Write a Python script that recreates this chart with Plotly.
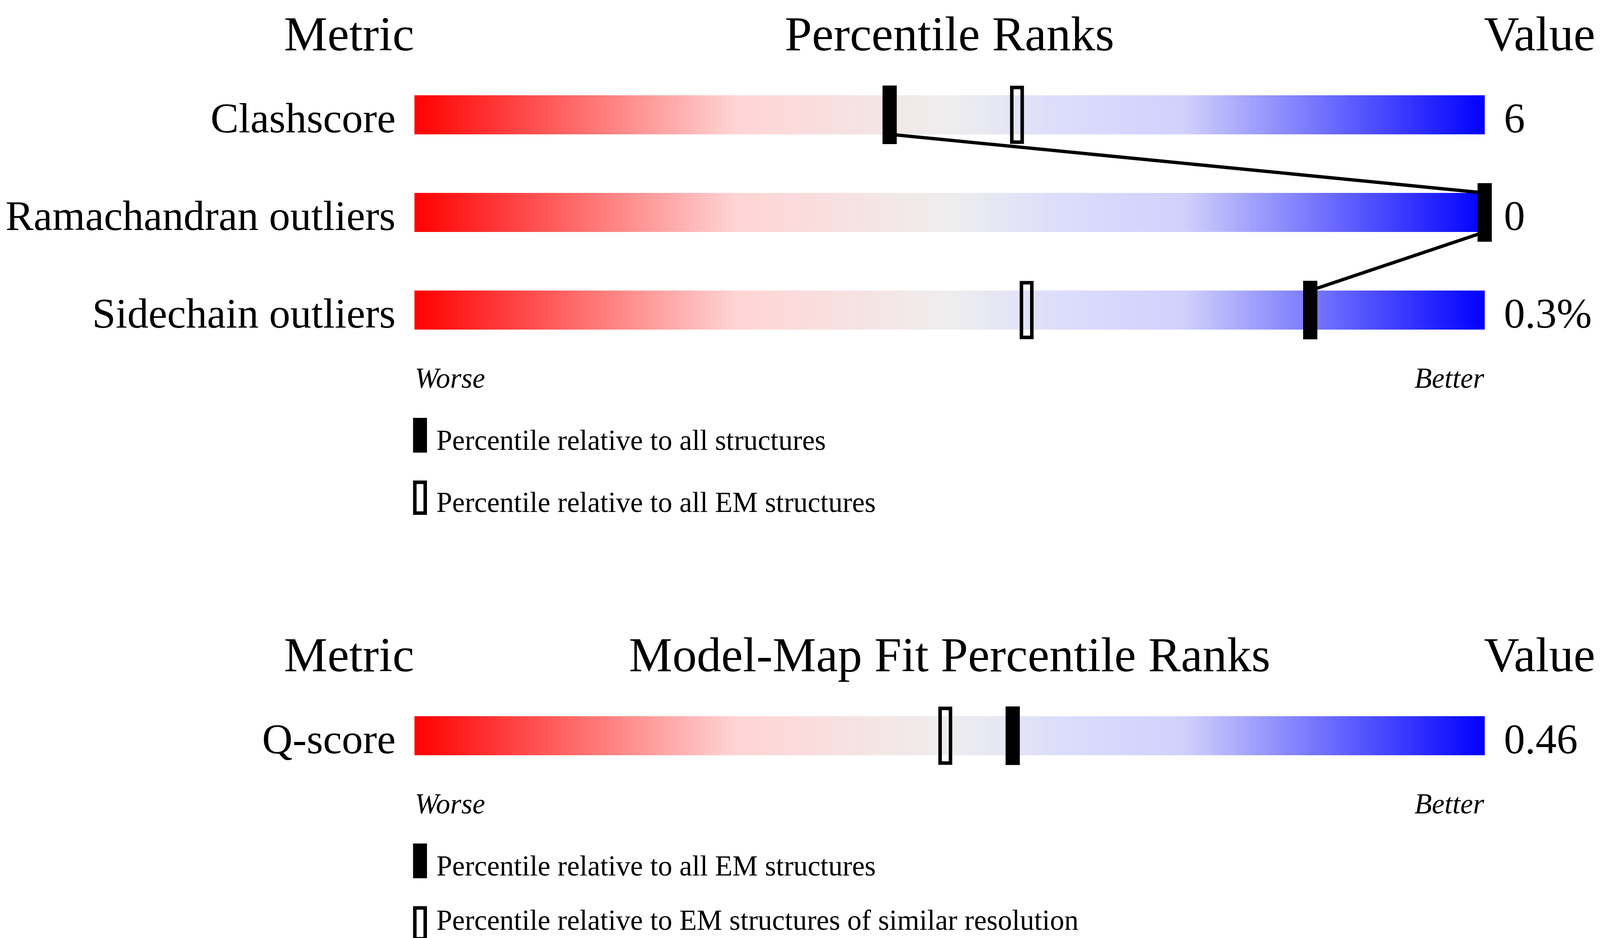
import numpy as np
import plotly.graph_objects as go

# --- upper panel: geometry percentile ranks ---
geo_title = "Percentile Ranks"
geo_metrics = ["Clashscore", "Ramachandran outliers", "Sidechain outliers"]
geo_rank_all = [44.4, 100.0, 83.7]      # filled marker
geo_rank_em = [56.3, None, 57.2]        # hollow marker
geo_values = ["6", "0", "0.3%"]
geo_legend = ["Percentile relative to all structures",
              "Percentile relative to all EM structures"]

# --- lower panel: model-map fit ---
fit_title = "Model-Map Fit Percentile Ranks"
fit_metrics = ["Q-score"]
fit_rank_em = [55.9]                    # filled marker
fit_rank_res = [49.6]                   # hollow marker
fit_values = ["0.46"]
fit_legend = ["Percentile relative to all EM structures",
              "Percentile relative to EM structures of similar resolution"]

# worse -> better colour ramp of the slider
ramp = [
    [0.0, "rgb(255,0,0)"],
    [0.3, "rgb(255,212,212)"],
    [0.5, "rgb(238,238,238)"],
    [0.6, "rgb(221,221,252)"],
    [0.72, "rgb(208,208,252)"],
    [1.0, "rgb(0,0,255)"],
]

SERIF = "Liberation Serif"
W, H = 4096, 2402          # the browser viewport is capped at 4096 wide
K = W / 4485.0             # horizontal shrink vs. the reference
PX = 250.0                 # pixels per row unit

fig = go.Figure()
edges = np.linspace(0, 100, 301)
centers = (edges[:-1] + edges[1:]) / 2


def add_panel(y0, title, metrics, filled, hollow, values, legend, connect, last_nudge=0.0):
    rows = [y0 + i for i in range(len(metrics))]
    last = rows[-1]

    for r in rows:
        fig.add_trace(go.Heatmap(
            x=edges, y=[r - 0.2, r + 0.2], z=[centers],
            colorscale=ramp, zmin=0, zmax=100, showscale=False, hoverinfo="skip"
        ))

    # line joining the filled markers
    if connect and len(rows) > 1:
        lx, ly = [], []
        for i in range(len(rows) - 1):
            lx += [filled[i], filled[i + 1], None]
            ly += [rows[i] + 0.2, rows[i + 1] - 0.2, None]
        fig.add_trace(go.Scatter(
            x=lx, y=ly, mode="lines", line=dict(color="black", width=8.5),
            hoverinfo="skip", showlegend=False
        ))

    fx = [p for p in filled if p is not None]
    fr = [r for p, r in zip(filled, rows) if p is not None]
    fig.add_trace(go.Bar(
        x=fx, y=[0.6] * len(fx), base=[r - 0.3 for r in fr], width=1.33,
        marker=dict(color="black", line=dict(width=0)), showlegend=False
    ))
    hx = [p for p in hollow if p is not None]
    hr = [r for p, r in zip(hollow, rows) if p is not None]
    fig.add_trace(go.Bar(
        x=hx, y=[0.56] * len(hx), base=[r - 0.28 for r in hr], width=0.97,
        marker=dict(color="rgba(0,0,0,0)", line=dict(color="black", width=9)),
        showlegend=False
    ))

    # legend keys
    k1, k2 = last + 1.282, last + 1.922
    fig.add_trace(go.Bar(
        x=[0.52], y=[0.356], base=[k1 - 0.178], width=1.3,
        marker=dict(color="black", line=dict(width=0)), showlegend=False
    ))
    fig.add_trace(go.Bar(
        x=[0.52], y=[0.316], base=[k2 - 0.158], width=0.97,
        marker=dict(color="white", line=dict(color="black", width=9)),
        showlegend=False
    ))

    head = dict(size=125, color="black", family=SERIF)
    hy = y0 - 0.83
    fig.add_annotation(x=0, y=hy, text="Metric", xanchor="right", font=head)
    fig.add_annotation(x=50, y=hy, text=title, xanchor="center", font=head)
    fig.add_annotation(x=99.9, y=hy, text="Value", xanchor="left", font=head)

    lab = dict(size=108, color="black", family=SERIF)
    for r, m, v in zip(rows, metrics, values):
        fig.add_annotation(x=-1.7, y=r + 0.034, text=m, xanchor="right", font=lab)
        fig.add_annotation(x=101.77, y=r + 0.034, text=v, xanchor="left", font=lab)

    ital = dict(size=round(80 * K), color="black", family=SERIF, style="italic")
    fig.add_annotation(x=0, y=last + 0.696, text="Worse", xanchor="left", font=ital)
    fig.add_annotation(x=100, y=last + 0.696, text="Better", xanchor="right", font=ital)

    small = dict(size=round(80 * K), color="black", family=SERIF)
    fig.add_annotation(x=2.0, y=last + 1.332, text=legend[0], xanchor="left", font=small)
    fig.add_annotation(x=2.0, y=last + 1.968 - last_nudge, text=legend[1], xanchor="left", font=small)


add_panel(0, geo_title, geo_metrics, geo_rank_all, geo_rank_em, geo_values, geo_legend, True)
add_panel(6.36, fit_title, fit_metrics, fit_rank_em, fit_rank_res, fit_values, fit_legend, False,
          last_nudge=0.08)

fig.update_annotations(showarrow=False, yanchor="middle", xref="x", yref="y", borderpad=0)
fig.update_layout(
    width=W, height=H,
    margin=dict(l=0, r=0, t=0, b=0),
    paper_bgcolor="white", plot_bgcolor="white",
    barmode="overlay", showlegend=False,
    xaxis=dict(range=[-1153 / 30.0, (4485 - 1153) / 30.0], visible=False, fixedrange=True),
    yaxis=dict(range=[(H - 286) / PX, -286 / PX], visible=False, fixedrange=True),
)

fig.write_html("out.html")
